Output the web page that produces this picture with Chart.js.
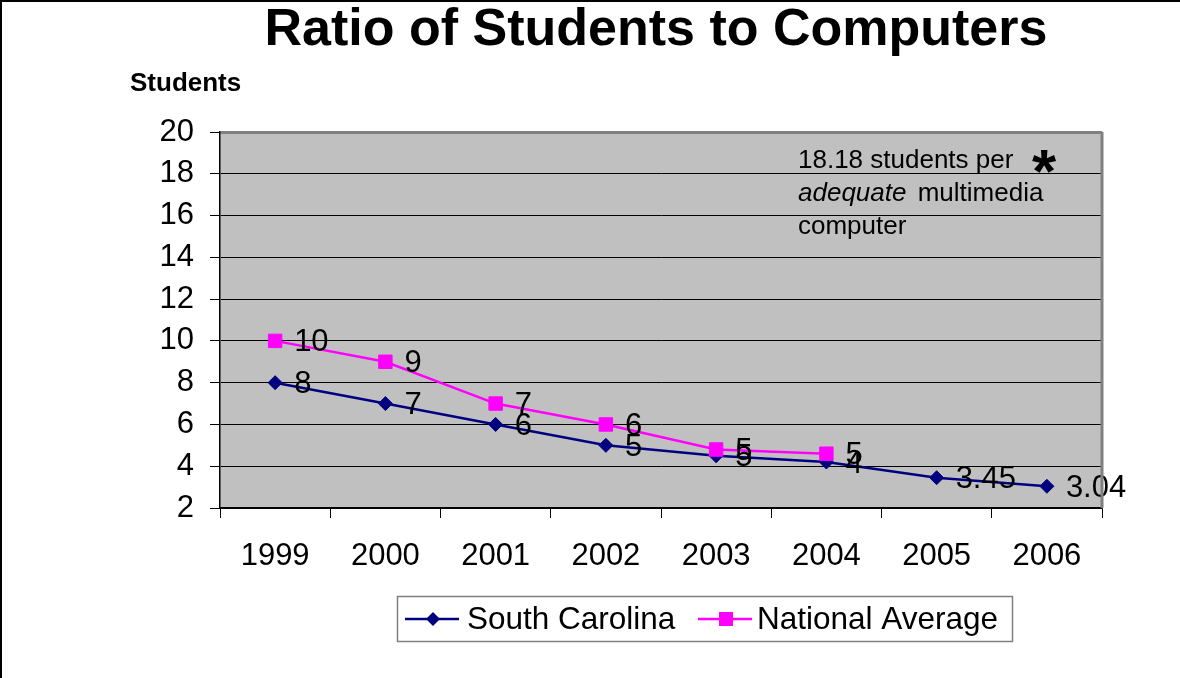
<!DOCTYPE html>
<html lang="en">
<head>
<meta charset="utf-8">
<title>Ratio of Students to Computers</title>
<script src="https://cdn.jsdelivr.net/npm/chart.js@4/dist/chart.umd.min.js"></script>
<style>
  body { margin: 0; background: #fff; }
  #wrap { width: 1180px; height: 678px; }
</style>
</head>
<body>
<div id="wrap"><canvas id="ratio"></canvas></div>
<script>
// years on the x axis
var years = ["1999", "2000", "2001", "2002", "2003", "2004", "2005", "2006"];

// students per computer
var southCarolina = [8, 7, 6, 5, 4.5, 4.2, 3.45, 3.04];
var nationalAvg = [10, 9, 7, 6, 4.8, 4.6, null, null];

// decimals shown in the point labels
var scDigits = [0, 0, 0, 0, 0, 0, 2, 2];
var naDigits = [0, 0, 0, 0, 0, 0, 0, 0];

var FONT = "'Liberation Sans', Arial, sans-serif";

// grey plot background, plot border and the page frame
var backdrop = {
  id: "backdrop",
  beforeDraw: function(chart) {
    var c = chart.ctx, a = chart.chartArea;
    c.save();
    c.fillStyle = "#C0C0C0";
    c.fillRect(a.left, a.top, a.right - a.left, a.bottom - a.top);
    c.restore();
  },
  afterDraw: function(chart) {
    var c = chart.ctx, a = chart.chartArea;
    c.save();
    c.strokeStyle = "#808080";
    c.lineWidth = 3;
    c.beginPath();
    c.moveTo(a.right, a.top);
    c.lineTo(a.right, a.bottom);
    c.stroke();
    c.fillStyle = "#000";
    c.fillRect(0, 0, chart.width, 2);
    c.fillRect(0, 0, 2, chart.height);
    c.restore();
  }
};

// title, axis caption and the note inside the plot
var texts = {
  id: "texts",
  afterDraw: function(chart) {
    var c = chart.ctx;
    c.save();
    c.fillStyle = "#000";
    c.textBaseline = "alphabetic";
    c.textAlign = "center";
    c.font = "bold 52px " + FONT;
    c.fillText("Ratio of Students to Computers", 656, 45);

    c.textAlign = "left";
    c.font = "bold 26px " + FONT;
    c.fillText("Students", 130, 91);

    c.font = "26px " + FONT;
    c.fillText("18.18 students per", 798, 168);
    c.font = "italic 26px " + FONT;
    c.fillText("adequate", 798, 201);
    var w = c.measureText("adequate ").width;
    c.font = "26px " + FONT;
    c.fillText("multimedia", 798 + w + 4, 201);
    c.fillText("computer", 798, 234);

    c.font = "bold 62px " + FONT;
    c.textAlign = "center";
    var m = c.measureText("*");
    var mid = (m.actualBoundingBoxAscent - m.actualBoundingBoxDescent) / 2;
    c.fillText("*", 1044, 161 + mid);
    c.restore();
  }
};

// value labels to the right of each point
var pointLabels = {
  id: "pointLabels",
  afterDatasetsDraw: function(chart) {
    var c = chart.ctx;
    c.save();
    c.font = "31px " + FONT;
    c.fillStyle = "#000";
    c.textAlign = "left";
    c.textBaseline = "middle";
    chart.data.datasets.forEach(function(ds, i) {
      var meta = chart.getDatasetMeta(i);
      meta.data.forEach(function(pt, j) {
        var v = ds.data[j];
        if (v === null) return;
        c.fillText(v.toFixed(ds.digits[j]), pt.x + 19, pt.y + 2);
      });
    });
    c.restore();
  }
};

function marker(c, style, x, y, color) {
  c.fillStyle = color;
  c.beginPath();
  if (style === "rectRot") {
    c.moveTo(x, y - 7); c.lineTo(x + 7, y); c.lineTo(x, y + 7); c.lineTo(x - 7, y);
    c.closePath();
  } else {
    c.rect(x - 7, y - 7, 14, 14);
  }
  c.fill();
}

// boxed legend under the x axis
var boxLegend = {
  id: "boxLegend",
  afterDraw: function(chart) {
    var c = chart.ctx;
    var ds = chart.data.datasets;
    c.save();
    c.fillStyle = "#fff";
    c.fillRect(397, 596, 616, 45);
    c.strokeStyle = "#808080";
    c.lineWidth = 1.5;
    c.strokeRect(397.5, 596.5, 615, 45);
    var starts = [405, 698];
    var y = 619;
    c.font = "31.5px " + FONT;
    c.textBaseline = "middle";
    c.textAlign = "left";
    ds.forEach(function(d, i) {
      var x = starts[i];
      c.strokeStyle = d.borderColor;
      c.lineWidth = 2.5;
      c.beginPath();
      c.moveTo(x, y);
      c.lineTo(x + 54, y);
      c.stroke();
      marker(c, d.pointStyle, x + 28, y, d.pointBackgroundColor);
      c.fillStyle = "#000";
      c.fillText(d.label, x + 62 - i * 3, y + 1);
    });
    c.restore();
  }
};

new Chart(document.getElementById("ratio"), {
  type: "line",
  data: {
    labels: years,
    datasets: [
      {
        label: "South Carolina",
        data: southCarolina,
        digits: scDigits,
        borderColor: "#000080",
        borderWidth: 2.5,
        pointStyle: "rectRot",
        pointRadius: 7,
        pointBackgroundColor: "#000080",
        pointBorderColor: "#000080",
        pointBorderWidth: 1,
        tension: 0,
        order: 1
      },
      {
        label: "National Average",
        data: nationalAvg,
        digits: naDigits,
        borderColor: "#FF00FF",
        borderWidth: 2.5,
        pointStyle: "rect",
        pointRadius: 9.5,
        pointBackgroundColor: "#FF00FF",
        pointBorderColor: "#FF00FF",
        pointBorderWidth: 1,
        tension: 0,
        order: 0
      }
    ]
  },
  options: {
    responsive: true,
    maintainAspectRatio: false,
    animation: false,
    layout: { padding: { left: 0, top: 132, right: 78, bottom: 0 } },
    plugins: {
      legend: { display: false },
      title: { display: false },
      tooltip: { enabled: false }
    },
    scales: {
      x: {
        offset: true,
        grid: {
          offset: true,
          drawOnChartArea: false,
          drawTicks: true,
          tickLength: 10,
          color: "#000",
          lineWidth: 1
        },
        border: { color: "#000", width: 1.5 },
        ticks: {
          color: "#000",
          font: { family: FONT, size: 31 },
          padding: 20,
          maxRotation: 0
        },
        afterFit: function(s) { s.height = 170; }
      },
      y: {
        min: 2,
        max: 20,
        grid: {
          color: function(ctx) { return ctx.tick && ctx.tick.value === 20 ? "#808080" : "#000"; },
          lineWidth: function(ctx) { return ctx.tick && ctx.tick.value === 20 ? 3 : 1; },
          tickColor: "#000",
          tickWidth: 1,
          tickLength: 10
        },
        border: { color: "#000", width: 1.5 },
        ticks: {
          stepSize: 2,
          color: "#000",
          font: { family: FONT, size: 31 },
          padding: 16
        },
        afterFit: function(s) { s.width = 220; }
      }
    }
  },
  plugins: [backdrop, texts, pointLabels, boxLegend]
});
</script>
</body>
</html>
